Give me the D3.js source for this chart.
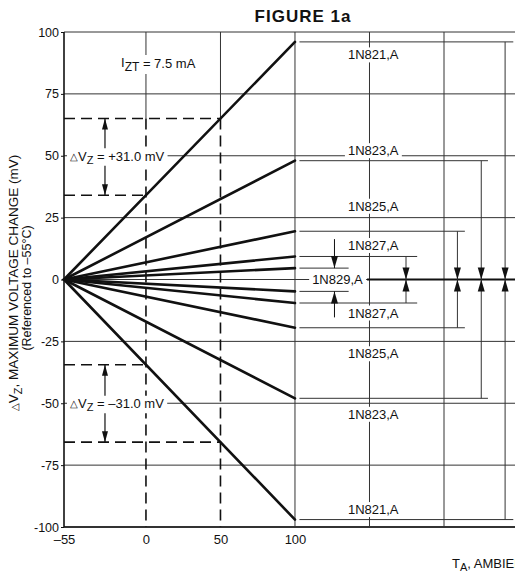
<!DOCTYPE html>
<html>
<head>
<meta charset="utf-8">
<script src="https://cdn.jsdelivr.net/npm/d3@7"></script>
<style>
  html, body { margin: 0; padding: 0; background: #fff; }
  text { font-family: "Liberation Sans", Arial, Helvetica, sans-serif; fill: #111; }
</style>
</head>
<body>
<svg id="chart" width="515" height="576"></svg>
<script>
// ---- data ----
const families = ["1N821,A", "1N823,A", "1N825,A", "1N827,A", "1N829,A"];
const endPositive = [96, 48, 19.5, 9.3, 4.6];     // mV at 100 °C
const endNegative = [-97, -48, -19.5, -9.5, -4.8]; // mV at 100 °C
const startTemp = -55;
const endTemp = 100;
const yTicks = [100, 75, 50, 25, 0, -25, -50, -75, -100];
const xTicks = [-55, 0, 50, 100];
const xGridExtra = [100, 150, 200];
const dashTemps = [0, 50];
const deltaLabels = ["+31.0 mV", "\u201331.0 mV"];
const currentLabel = "= 7.5 mA";

// ---- layout (annotation placement, in temperature units / px offsets) ----
const layout = {
  lineStartT: 103,
  bracketT: [241, 225, 209, 174.5, 126.5],
  bracketEndT: [246.5, 229.5, 214, 182, 136],
  labelT: [152.5, 152.5, 152.5, 152.5, 128.5],
  labelOffTop: [13, -10, -25, -11, 0],
  labelOffBot: [-10, 16, 26, 10, 0],
  deltaArrowT: -27.5
};

const W = 515, H = 576;
const svg = d3.select("#chart");
svg.append("rect").attr("width", W).attr("height", H).attr("fill", "#fff");

const x = d3.scaleLinear().domain([-55, 200]).range([64, 444]);
const y = d3.scaleLinear().domain([-100, 100]).range([527, 32]);
const right = W;
const ink = "#111";

// intersections for delta-Vz annotation (1N821 lines)
const slopeP = endPositive[0] / (endTemp - startTemp);
const slopeN = endNegative[0] / (endTemp - startTemp);
const dPos = dashTemps.map(t => slopeP * (t - startTemp));
const dNeg = dashTemps.map(t => slopeN * (t - startTemp));

// grid horizontal
svg.append("g").selectAll("line").data(yTicks).join("line")
  .attr("x1", x(-55)).attr("x2", right)
  .attr("y1", d => y(d)).attr("y2", d => y(d))
  .attr("stroke", "#333").attr("stroke-width", d => d === -100 ? 2.2 : 1);

// grid vertical solid
svg.append("g").selectAll("line").data(xGridExtra).join("line")
  .attr("x1", d => x(d)).attr("x2", d => x(d))
  .attr("y1", y(100)).attr("y2", y(-100))
  .attr("stroke", "#333").attr("stroke-width", 1);

// left axis line
svg.append("line").attr("x1", x(-55)).attr("x2", x(-55))
  .attr("y1", y(100)).attr("y2", y(-100)).attr("stroke", ink).attr("stroke-width", 1.6);

// y axis ticks + labels
const yAxis = d3.axisLeft(y).tickValues(yTicks).tickSize(3).tickPadding(2)
  .tickFormat(d => d < 0 ? "-" + Math.abs(d) : d);
const gy = svg.append("g").attr("transform", `translate(${x(-55)},0)`).call(yAxis);
gy.select(".domain").remove();
gy.selectAll("line").attr("stroke", ink);
gy.selectAll("text").attr("font-size", 12.5).attr("font-family", "Liberation Sans, Arial, sans-serif").attr("fill", ink);

// x axis labels
const xAxis = d3.axisBottom(x).tickValues(xTicks).tickSize(0).tickPadding(8)
  .tickFormat(d => d < 0 ? "\u2013" + Math.abs(d) : d);
const gx = svg.append("g").attr("transform", `translate(0,${y(-100)})`).call(xAxis);
gx.select(".domain").remove();
gx.selectAll("text").attr("font-size", 13).attr("font-family", "Liberation Sans, Arial, sans-serif").attr("fill", ink);

// verticals at 0 and 50: solid grid above the upper dashed level, dashed below
svg.append("g").selectAll("line").data(dashTemps).join("line")
  .attr("x1", d => x(d)).attr("x2", d => x(d))
  .attr("y1", y(100)).attr("y2", y(dPos[1]))
  .attr("stroke", "#333").attr("stroke-width", 1);
svg.append("g").selectAll("line").data(dashTemps).join("line")
  .attr("x1", d => x(d)).attr("x2", d => x(d))
  .attr("y1", y(dPos[1])).attr("y2", y(-100))
  .attr("stroke", ink).attr("stroke-width", 1.6).attr("stroke-dasharray", "11,6");

// family lines
const lineGen = d3.line().x(d => x(d[0])).y(d => y(d[1]));
const series = [];
families.forEach((f, i) => {
  series.push({ name: f, pts: [[startTemp, 0], [endTemp, endPositive[i]]] });
  series.push({ name: f, pts: [[startTemp, 0], [endTemp, endNegative[i]]] });
});
svg.append("g").selectAll("path").data(series).join("path")
  .attr("d", d => lineGen(d.pts))
  .attr("fill", "none").attr("stroke", ink).attr("stroke-width", 2.6).attr("stroke-linecap", "round");

const dashG = svg.append("g");
[dPos, dNeg].forEach(vals => {
  vals.forEach((v, j) => {
    dashG.append("line")
      .attr("x1", x(-55)).attr("x2", x(dashTemps[j]))
      .attr("y1", y(v)).attr("y2", y(v))
      .attr("stroke", ink).attr("stroke-width", 1.6).attr("stroke-dasharray", "11,6");
  });
});

function tri(g, cx, tipY, dir, w, h) {
  const baseY = tipY - dir * h;
  g.append("path")
    .attr("d", `M${cx - w / 2},${baseY}L${cx + w / 2},${baseY}L${cx},${tipY}Z`)
    .attr("fill", ink);
}

// brackets
const brG = svg.append("g");
families.forEach((f, i) => {
  const yt = y(endPositive[i]), yb = y(endNegative[i]);
  [yt, yb].forEach(yy => {
    brG.append("line").attr("x1", x(layout.lineStartT)).attr("x2", x(layout.bracketEndT[i]))
      .attr("y1", yy).attr("y2", yy).attr("stroke", "#333").attr("stroke-width", 1);
  });
  const bx = x(layout.bracketT[i]);
  if (i < 4) {
    brG.append("line").attr("x1", bx).attr("x2", bx).attr("y1", yt).attr("y2", yb)
      .attr("stroke", "#333").attr("stroke-width", 1);
    tri(brG, bx, y(0), 1, 7, 12);
    tri(brG, bx, y(0), -1, 7, 12);
  } else {
    brG.append("line").attr("x1", bx).attr("x2", bx).attr("y1", yt - 29).attr("y2", yt)
      .attr("stroke", ink).attr("stroke-width", 1);
    tri(brG, bx, yt, 1, 7, 12);
    brG.append("line").attr("x1", bx).attr("x2", bx).attr("y1", yb).attr("y2", yb + 26)
      .attr("stroke", ink).attr("stroke-width", 1);
    tri(brG, bx, yb, -1, 7, 12);
  }
});

// labels with white background
function bgText(g, tx, ty, build, size, anchor) {
  const grp = g.append("g");
  const rect = grp.append("rect").attr("fill", "#fff");
  const t = grp.append("text").attr("x", tx).attr("y", ty)
    .attr("font-size", size).attr("text-anchor", anchor || "middle")
    .attr("dominant-baseline", "central");
  build(t);
  const bb = t.node().getBBox();
  rect.attr("x", bb.x - 3).attr("y", bb.y).attr("width", bb.width + 6).attr("height", bb.height);
  return { grp, bb };
}

const labG = svg.append("g");
families.forEach((f, i) => {
  if (i < 4) {
    bgText(labG, x(layout.labelT[i]), y(endPositive[i]) + layout.labelOffTop[i], t => t.text(f), 13);
    bgText(labG, x(layout.labelT[i]), y(endNegative[i]) + layout.labelOffBot[i], t => t.text(f), 13);
  } else {
    const r = bgText(labG, x(layout.labelT[i]), y(0), t => t.text(f), 13);
    svg.append("line").attr("x1", r.bb.x + r.bb.width + 4).attr("x2", right)
      .attr("y1", y(0)).attr("y2", y(0)).attr("stroke", ink).attr("stroke-width", 2);
  }
});
brG.raise();
labG.raise();

// delta Vz arrows
const arG = svg.append("g");
const ax = x(layout.deltaArrowT);
[[dPos, 50, deltaLabels[0]], [dNeg, -50, deltaLabels[1]]].forEach(([vals, ly, lab]) => {
  const top = Math.max(vals[0], vals[1]), bot = Math.min(vals[0], vals[1]);
  arG.append("line").attr("x1", ax).attr("x2", ax).attr("y1", y(top)).attr("y2", y(bot))
    .attr("stroke", ink).attr("stroke-width", 1.2);
  tri(arG, ax, y(top), -1, 6, 11);
  tri(arG, ax, y(bot), 1, 6, 11);
  bgText(arG, x(-55) + 6, y(ly), t => {
    t.append("tspan").attr("font-size", 10).text("\u25B3");
    t.append("tspan").text("V");
    t.append("tspan").attr("font-size", 11).attr("dy", 4).text("Z");
    t.append("tspan").attr("dy", -4).text(" = " + lab);
  }, 13, "start");
});

// I_ZT label with white background
const izg = svg.append("g");
const izRect = izg.append("rect").attr("fill", "#fff");
const iz = izg.append("text").attr("x", 121).attr("y", 68).attr("font-size", 13);
iz.append("tspan").attr("dy", -1).text("I");
iz.append("tspan").attr("font-size", 12).attr("dy", 4).text("ZT");
iz.append("tspan").attr("dy", -3).text(" " + currentLabel);
const izb = iz.node().getBBox();
izRect.attr("x", izb.x - 2).attr("y", izb.y).attr("width", izb.width + 4).attr("height", izb.height);

// title
svg.append("text").attr("x", 303).attr("y", 22).attr("text-anchor", "middle")
  .attr("font-size", 17).attr("font-weight", "bold").attr("letter-spacing", 1)
  .text("FIGURE 1a");

// y axis title
const ytl = svg.append("text").attr("transform", `translate(18,283) rotate(-90)`)
  .attr("text-anchor", "middle").attr("font-size", 13.5);
ytl.append("tspan").attr("font-size", 10).text("\u25B3");
ytl.append("tspan").text("V");
ytl.append("tspan").attr("font-size", 11).attr("dy", 4).text("Z");
ytl.append("tspan").attr("dy", -4).text(", MAXIMUM VOLTAGE CHANGE (mV)");
svg.append("text").attr("transform", `translate(31,288) rotate(-90)`)
  .attr("text-anchor", "middle").attr("font-size", 12.5)
  .text("(Referenced to \u201355\u00B0C)");

// x axis title (runs off the right edge, as in the original)
const xt = svg.append("text").attr("x", 452).attr("y", 568).attr("font-size", 13);
xt.append("tspan").text("T");
xt.append("tspan").attr("font-size", 11).attr("dy", 3).text("A");
xt.append("tspan").attr("dy", -3).text(", AMBIENT TEMPERATURE (\u00B0C)");
</script>
</body>
</html>
